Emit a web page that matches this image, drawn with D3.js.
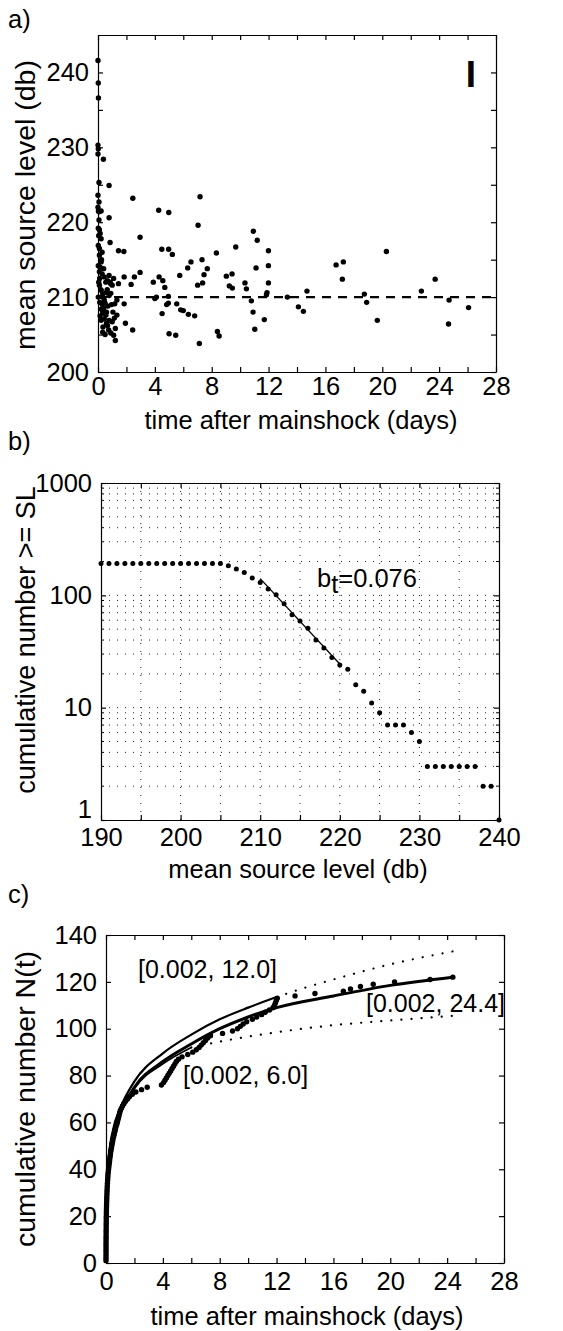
<!DOCTYPE html>
<html lang="en">
<head>
<meta charset="UTF-8">
<title>Aftershock source levels</title>
<script src="https://d3js.org/d3.v7.min.js"></script>
<style>
    html, body { margin: 0; padding: 0; background: #fff; }
    svg { display: block; font-family: "Liberation Sans", Arial, Helvetica, sans-serif; }
    .axis { font-family: "Liberation Sans", Arial, Helvetica, sans-serif; }
    .axis path, .axis line { stroke: #000; stroke-width: 1.2px; }
    .axis text { font-size: 25.5px; fill: #000; }
    .label { font-size: 25.5px; fill: #000; }
    .note { font-size: 25px; fill: #000; }
    .ylabel { font-size: 28.5px; fill: #000; }
    .grid { stroke: #222; stroke-width: 1px; stroke-dasharray: 1 7; fill: none; }
</style>
</head>
<body>
<script>
// ---- panel a: mean source level of each event vs time (days)
const timeA = [
    0, 0.02, 0.03, 0, 0.02, 0, 0.38, 0.07, 0.78, 0,
    0.07, 2.45, 0, 0.03, 0.22, 4.27, 4.98, 0.07, 0.78, 0.07,
    0.02, 0.1, 0.22, 0.85, 0.02, 0.1, 0.29, 0.1, 1.44, 1.82,
    0.22, 0.02, 0.15, 0.1, 0.29, 0.44, 0.78, 0.67, 1.1, 0.89,
    1, 1.44, 1.84, 2.56, 2.33, 2.96, 3.89, 4.3, 4.56, 4.7,
    0.1, 0.22, 0.33, 0.56, 0.02, 0.44, 0.78, 1.33, 1.18, 1.84,
    4, 4.11, 0.22, 0.33, 0.56, 0.44, 0.22, 0.78, 0.67, 1,
    1.33, 1.22, 1.1, 1.22, 0.33, 1.93, 2.44, 4.51, 5, 0.05,
    0.12, 0.2, 0.3, 0.4, 0.5, 0.6, 0.15, 0.35, 0.5, 0.65,
    0.9, 0.95, 0.7, 1.05, 1.15, 0.25, 0.4, 0.55, 0.85, 0.05,
    0.15, 0.3, 0.12, 0.45, 0.6, 0.75, 0.9, 2.96, 7.18, 7.04,
    10.93, 11.2, 4.49, 4.97, 5.23, 8.33, 9.69, 11.99, 6.54, 6.31,
    7.32, 7.69, 7.46, 7.01, 7.36, 5.75, 9.03, 9.43, 9.24, 9.45,
    10.34, 10.44, 11.12, 11.99, 11.99, 11.89, 11.85, 13.32, 14.7, 14.1,
    14.45, 16.75, 17.26, 17.19, 20.29, 18.74, 18.9, 19.65, 22.75, 23.72,
    24.7, 24.66, 26.07, 10.79, 10.91, 11.03, 11.7, 8.4, 8.52, 7.13,
    5.47, 5.54, 5.82, 6, 6.36, 6.8, 4.95, 4.83, 4.95
];
const levelA = [
    241.6, 238.6, 236.6, 230.3, 229.8, 229.1, 228.4, 225.3, 224.9, 223.6,
    222.7, 223.2, 222, 221.5, 221.5, 221.6, 221.3, 221.4, 220.6, 220.3,
    219.2, 219, 217.8, 217.3, 216.9, 216.5, 216, 215.6, 216.2, 216.1,
    214.7, 214.2, 214, 213.4, 213.1, 212.7, 212.9, 212.2, 212.5, 211.8,
    211.6, 211.8, 212.7, 212.7, 211.7, 213.3, 212, 212.7, 212.2, 211.3,
    211.6, 210.9, 210.4, 210.6, 210, 209.6, 210.2, 209.6, 209.1, 209.1,
    209.8, 210, 208.4, 208, 207.6, 207.1, 206.9, 206.9, 206.2, 206.7,
    207.6, 205.8, 204.9, 204.2, 205.3, 206.5, 205.6, 207.8, 205.1, 212,
    212.5, 211, 209, 208.5, 209.2, 208, 207.5, 206, 205, 211,
    210.5, 209, 208.8, 208, 207.2, 215, 213.8, 212, 212, 218.2,
    218.5, 210, 209.3, 207.8, 206.5, 205.6, 205.2, 218, 223.4, 219.6,
    218.8, 217.6, 216.4, 216.4, 215.7, 215.9, 216.7, 216.2, 214.7, 213.9,
    215, 213.8, 213, 211.6, 211.9, 212.9, 212.8, 213.1, 211.5, 211.2,
    211.9, 211.1, 213.9, 214.2, 211.9, 210.6, 210.3, 210, 210.8, 208.7,
    208.1, 214.3, 214.7, 212.4, 216.1, 210.4, 209.3, 206.9, 210.8, 212.4,
    209.6, 206.4, 208.6, 209.5, 208, 205.7, 207, 205.4, 204.8, 203.8,
    204.9, 209.1, 208.3, 208.2, 207.7, 207.5, 209.2, 209, 210.1
];
const meanLevel = 210;
const timeTicks = [0, 2, 4, 6, 8, 10, 12, 14, 16, 18, 20, 22, 24, 26, 28];
const levelTicks = [200, 205, 210, 215, 220, 225, 230, 235, 240];

// ---- panel b: cumulative number of events >= source level
const sourceLevel = [
    190, 191, 192, 193, 194, 195, 196, 197, 198, 199,
    200, 201, 202, 203, 204, 205, 206, 207, 208, 209,
    210, 211, 212, 213, 214, 215, 216, 217, 218, 219,
    220, 221, 222, 223, 224, 225, 226, 227, 228, 229,
    230, 231, 232, 233, 234, 235, 236, 237, 238, 239, 240
];
const cumNumber = [
    192, 192, 192, 192, 192, 192, 192, 192, 192, 192,
    192, 192, 192, 192, 192, 192, 183, 172, 160, 143,
    130, 114, 101, 84, 67, 59, 51, 40, 34, 28,
    24, 22, 16, 14, 11, 9, 7, 7, 7, 6,
    5, 3, 3, 3, 3, 3, 3, 3, 2, 2, 1
];
const fitLevel = [210, 220];
const fitNumber = [141, 24.5];
const slTicks = [190, 195, 200, 205, 210, 215, 220, 225, 230, 235, 240];
const countTicks = [1, 10, 100, 1000];

// ---- panel c: event times (days) for cumulative number N(t), and Omori fits
const eventTime = [
    0.000, 0.001, 0.001, 0.002, 0.002, 0.003, 0.003, 0.004, 0.005, 0.006,
    0.007, 0.008, 0.009, 0.010, 0.012, 0.014, 0.016, 0.018, 0.020, 0.023,
    0.026, 0.029, 0.032, 0.036, 0.040, 0.045, 0.050, 0.055, 0.061, 0.068,
    0.075, 0.083, 0.091, 0.10, 0.11, 0.12, 0.13, 0.14, 0.16, 0.18,
    0.20, 0.22, 0.24, 0.26, 0.28, 0.30, 0.32, 0.35, 0.38, 0.41,
    0.44, 0.47, 0.50, 0.54, 0.58, 0.62, 0.66, 0.70, 0.75, 0.80,
    0.84, 0.88, 0.92, 0.96, 1.00, 1.08, 1.16, 1.26, 1.38, 1.52,
    1.65, 1.85, 2.1, 2.5, 2.9, 3.9, 4.05, 4.15, 4.25, 4.35,
    4.45, 4.55, 4.65, 4.75, 4.85, 4.95, 5.1, 5.35, 5.75, 6.1,
    6.35, 6.55, 6.7, 6.85, 7.0, 7.15, 7.35, 8.2, 8.9, 9.25,
    9.45, 9.65, 9.9, 10.3, 10.6, 10.95, 11.2, 11.5, 11.75, 11.85,
    11.92, 11.98, 12.05, 13.3, 14.7, 16.7, 17.2, 17.9, 18.8, 20.3,
    22.8, 24.4
];
const fit12Time = [0, 0.01, 0.05, 0.2, 0.5, 1, 2, 4, 6, 8, 10, 12];
const fit12N = [0, 14, 28.5, 45, 57, 66, 77.5, 89.5, 97.5, 104, 109, 113.5];
const fit12ExtTime = [12, 14, 16, 20, 24.4];
const fit12ExtN = [113.5, 117.5, 121, 127.5, 133];
const fit6Time = [0, 0.01, 0.05, 0.2, 0.5, 1, 2, 4, 6];
const fit6N = [0, 13, 26.5, 42.5, 54.5, 63.5, 74.5, 85, 92];
const fit6ExtTime = [6, 8, 12, 16, 20, 24.4];
const fit6ExtN = [92, 94.5, 98.5, 101.5, 103.5, 105.5];
const fit24Time = [0, 0.01, 0.05, 0.2, 0.5, 1, 2, 4, 6, 8, 10, 12, 16, 20, 24.4];
const fit24N = [0, 13, 27, 43, 55, 64, 75, 86, 93.5, 100, 105, 109, 114, 118.5, 122];
const nTicks = [0, 20, 40, 60, 80, 100, 120, 140];

const W = 563, H = 1331;
const svg = d3.select("body").append("svg").attr("width", W).attr("height", H);
svg.append("rect").attr("width", W).attr("height", H).attr("fill", "#fff");

// boxed MATLAB-style frame, ticks pointing inwards on all four sides
function frame(g, x, y, o) {
    const [x0, x1] = x.range(), [y0, y1] = y.range();
    g.append("g").attr("class", "axis").attr("transform", `translate(0,${y0})`)
        .call(d3.axisBottom(x).tickValues(o.xTicks).tickSizeInner(-5).tickSizeOuter(0)
            .tickPadding(o.xPad).tickFormat(o.xFmt));
    g.append("g").attr("class", "axis").attr("transform", `translate(0,${y1})`)
        .call(d3.axisTop(x).tickValues(o.xTicks).tickSizeInner(-5).tickSizeOuter(0).tickFormat(""));
    g.append("g").attr("class", "axis").attr("transform", `translate(${x0},0)`)
        .call(d3.axisLeft(y).tickValues(o.yTicks).tickSizeInner(-5).tickSizeOuter(0)
            .tickPadding(9).tickFormat(o.yFmt))
        .call(a => a.selectAll("text").attr("dy", d => d === o.yLow ? "-0.1em" : "0.32em"));
    g.append("g").attr("class", "axis").attr("transform", `translate(${x1},0)`)
        .call(d3.axisRight(y).tickValues(o.yTicks).tickSizeInner(-5).tickSizeOuter(0).tickFormat(""));
}

function yLabel(txt, cy, size) {
    svg.append("text").attr("class", "ylabel")
        .attr("transform", `translate(35,${cy}) rotate(-90)`)
        .style("font-size", size + "px")
        .attr("text-anchor", "middle").text(txt);
}
function xLabel(txt, cx, by) {
    svg.append("text").attr("class", "label").attr("x", cx).attr("y", by)
        .attr("text-anchor", "middle").text(txt);
}
function panelTag(txt, by) {
    svg.append("text").attr("class", "label").attr("x", 8).attr("y", by).text(txt);
}

// ================= panel a
const xA = d3.scaleLinear().domain([0, 28]).range([98, 496]);
const yA = d3.scaleLinear().domain([200, 245]).range([372, 35]);
const gA = svg.append("g");

gA.append("line")
    .attr("x1", xA(0)).attr("x2", xA(28))
    .attr("y1", yA(meanLevel)).attr("y2", yA(meanLevel))
    .attr("stroke", "#000").attr("stroke-width", 2.4).attr("stroke-dasharray", "9 7");

gA.selectAll("circle").data(timeA).join("circle")
    .attr("cx", d => xA(d))
    .attr("cy", (d, i) => yA(levelA[i]))
    .attr("r", 2.7).attr("fill", "#000");

frame(gA, xA, yA, {
    xTicks: timeTicks, xFmt: d => d % 4 === 0 ? d : "", xPad: 5,
    yTicks: levelTicks, yFmt: d => d % 10 === 0 ? d : ""
});
gA.append("text").attr("x", 471).attr("y", 87).attr("text-anchor", "middle")
    .attr("font-size", 37).attr("font-weight", "bold").text("I");

panelTag("a)", 28);
yLabel("mean source level (db)", 205, 28.5);
xLabel("time after mainshock (days)", 301, 429);

// ================= panel b
const xB = d3.scaleLinear().domain([190, 240]).range([101, 499]);
const yB = d3.scaleLog().domain([1, 1000]).range([820, 483]);
const gB = svg.append("g");

const gridX = slTicks.filter(d => d > 190 && d < 240);
const gridY = yB.ticks().filter(d => d > 1 && d < 1000);
gB.selectAll(".gx").data(gridX).join("line").attr("class", "grid")
    .attr("x1", d => xB(d)).attr("x2", d => xB(d)).attr("y1", 820).attr("y2", 483);
gB.selectAll(".gy").data(gridY).join("line").attr("class", "grid")
    .attr("x1", 101).attr("x2", 499).attr("y1", d => yB(d)).attr("y2", d => yB(d));

gB.append("path")
    .attr("d", d3.line().x(d => xB(d)).y((d, i) => yB(fitNumber[i]))(fitLevel))
    .attr("fill", "none").attr("stroke", "#000").attr("stroke-width", 1.3);

gB.selectAll("circle").data(sourceLevel).join("circle")
    .attr("cx", d => xB(d))
    .attr("cy", (d, i) => yB(cumNumber[i]))
    .attr("r", 2.5).attr("fill", "#000");

frame(gB, xB, yB, {
    xTicks: slTicks, xFmt: d => d % 10 === 0 ? d : "", xPad: 8,
    yTicks: countTicks, yFmt: d3.format("d"), yLow: 1
});
// minor log ticks
const minorB = yB.ticks().filter(d => countTicks.indexOf(d) < 0);
gB.selectAll(".ml").data(minorB).join("line")
    .attr("x1", 101).attr("x2", 104).attr("y1", d => yB(d)).attr("y2", d => yB(d))
    .attr("stroke", "#000");
gB.selectAll(".mr").data(minorB).join("line")
    .attr("x1", 496).attr("x2", 499).attr("y1", d => yB(d)).attr("y2", d => yB(d))
    .attr("stroke", "#000");

const bt = gB.append("text").attr("class", "label").attr("x", 317).attr("y", 587);
bt.append("tspan").text("b");
bt.append("tspan").attr("dy", 6).text("t");
bt.append("tspan").attr("dy", -6).text("=0.076");

panelTag("b)", 450);
yLabel("cumulative number >= SL", 640, 27);
xLabel("mean source level (db)", 298, 878);

// ================= panel c
const xC = d3.scaleLinear().domain([0, 28]).range([106, 504]);
const yC = d3.scaleLinear().domain([0, 140]).range([1263, 935]);
const gC = svg.append("g");

const sorted = eventTime.slice().sort(d3.ascending);
const cumulative = sorted.map((t, i) => ({ t: t, n: i + 1 }));

const curve = (ts, ns) => d3.line().curve(d3.curveMonotoneX)
    .x(d => xC(d)).y((d, i) => yC(ns[i]))(ts);

gC.append("path").attr("d", curve(fit12ExtTime, fit12ExtN))
    .attr("fill", "none").attr("stroke", "#000").attr("stroke-width", 2.2)
    .attr("stroke-linecap", "round").attr("stroke-dasharray", "0.1 10");
gC.append("path").attr("d", curve(fit6ExtTime, fit6ExtN))
    .attr("fill", "none").attr("stroke", "#000").attr("stroke-width", 2.2)
    .attr("stroke-linecap", "round").attr("stroke-dasharray", "0.1 10");
gC.append("path").attr("d", curve(fit12Time, fit12N))
    .attr("fill", "none").attr("stroke", "#000").attr("stroke-width", 2.2);
gC.append("path").attr("d", curve(fit6Time, fit6N))
    .attr("fill", "none").attr("stroke", "#000").attr("stroke-width", 1.8);
gC.append("path").attr("d", curve(fit24Time, fit24N))
    .attr("fill", "none").attr("stroke", "#000").attr("stroke-width", 3);

gC.selectAll("circle").data(cumulative).join("circle")
    .attr("cx", d => xC(d.t)).attr("cy", d => yC(d.n))
    .attr("r", 2.7).attr("fill", "#000");

frame(gC, xC, yC, {
    xTicks: timeTicks, xFmt: d => d % 4 === 0 ? d : "", xPad: 9,
    yTicks: nTicks, yFmt: d3.format("d")
});

gC.append("text").attr("class", "note").attr("x", 138).attr("y", 978).text("[0.002, 12.0]");
gC.append("text").attr("class", "note").attr("x", 366).attr("y", 1012).text("[0.002, 24.4]");
gC.append("text").attr("class", "note").attr("x", 183).attr("y", 1084).text("[0.002, 6.0]");

panelTag("c)", 903);
yLabel("cumulative number N(t)", 1099, 28.5);
xLabel("time after mainshock (days)", 307, 1325);
</script>
</body>
</html>
